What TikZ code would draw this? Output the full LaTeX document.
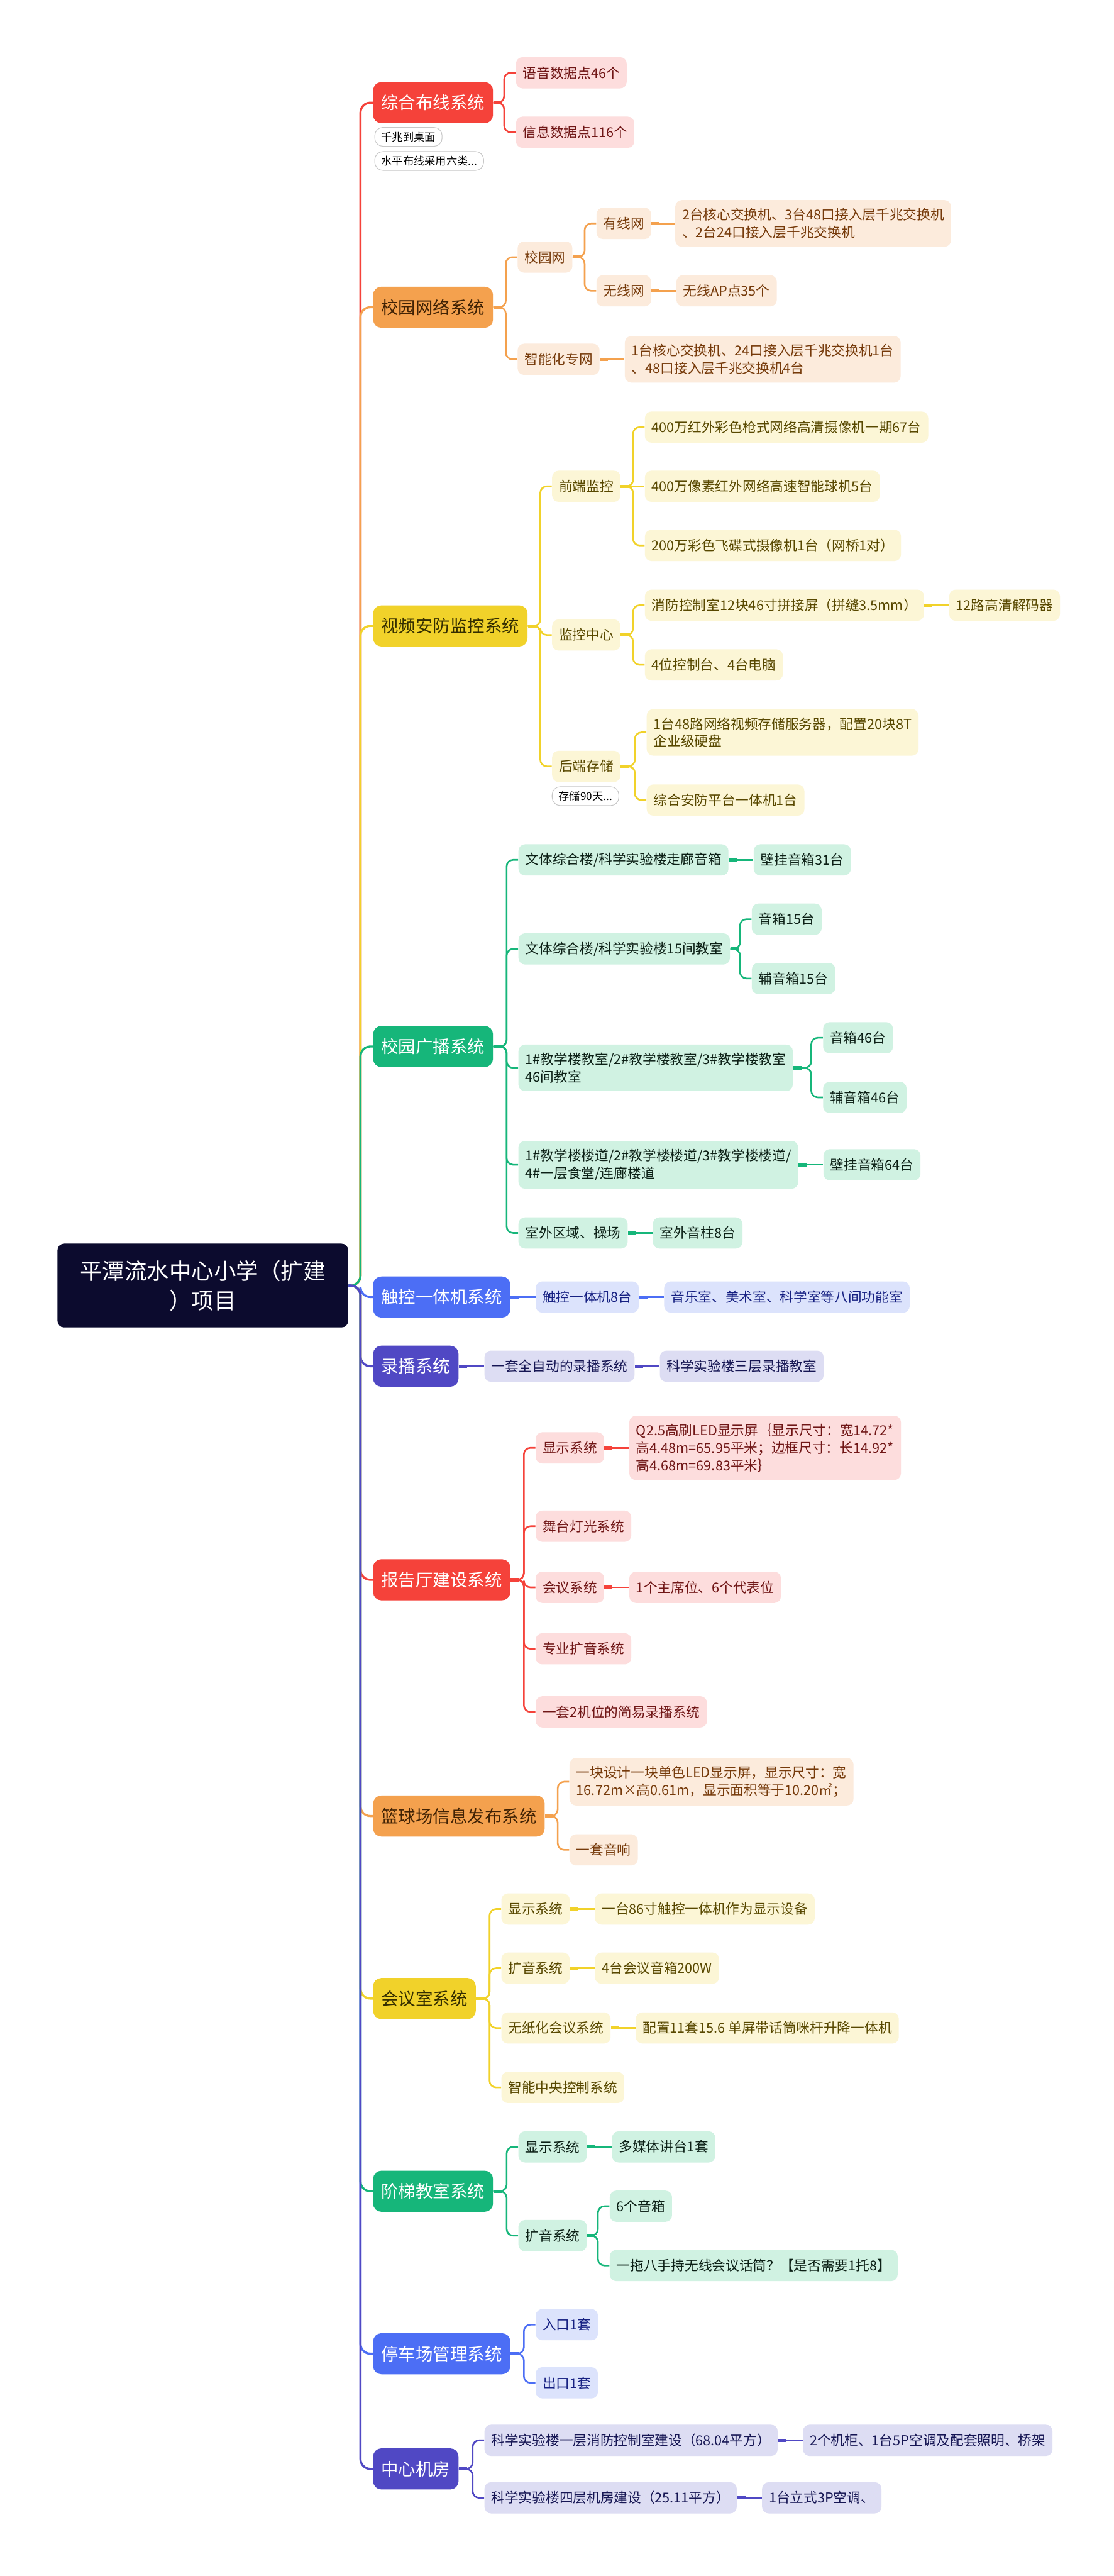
\documentclass[tikz,border=0pt]{standalone}
\usepackage{fontspec}
\setmainfont{Noto Sans CJK SC}
\usetikzlibrary{positioning,backgrounds}
\definecolor{rootInk}{RGB}{12,11,46}
\definecolor{brRed}{RGB}{245,66,58}
\definecolor{brRedLt}{RGB}{253,221,221}
\definecolor{brRedTx}{RGB}{112,22,22}
\definecolor{brOrange}{RGB}{244,161,78}
\definecolor{brOrangeLt}{RGB}{252,235,220}
\definecolor{brOrangeTx}{RGB}{118,58,10}
\definecolor{brOrangeHd}{RGB}{64,34,4}
\definecolor{brYellow}{RGB}{241,210,42}
\definecolor{brYellowLt}{RGB}{252,246,214}
\definecolor{brYellowTx}{RGB}{88,72,0}
\definecolor{brYellowHd}{RGB}{52,46,0}
\definecolor{brGreen}{RGB}{22,182,122}
\definecolor{brGreenLt}{RGB}{208,242,226}
\definecolor{brGreenTx}{RGB}{12,32,22}
\definecolor{brBlue}{RGB}{76,110,245}
\definecolor{brBlueLt}{RGB}{220,227,252}
\definecolor{brBlueTx}{RGB}{22,32,130}
\definecolor{brIndigo}{RGB}{80,72,196}
\definecolor{brIndigoLt}{RGB}{221,221,243}
\definecolor{brIndigoTx}{RGB}{22,22,84}
% parent -> child elbow, with the thick stub at the parent
\newcommand{\twig}[3]{%
  \draw[#1,line width=1pt,rounded corners=4pt] (#2.east) -| ([xshift=-7pt]#3.west) -- (#3.west);
  \draw[#1,line width=2pt] (#2.east) -- ++(5pt,0);}
% parent -> child on the same row
\newcommand{\stem}[3]{%
  \draw[#1,line width=1pt] (#2.east) -- (#3.west);
  \draw[#1,line width=2pt] (#2.east) -- ++(5pt,0);}
% root -> first level
\newcommand{\limb}[2]{%
  \draw[#1,line width=1.3pt,rounded corners=6pt] (root.east) -| ([xshift=-7.5pt]#2.west) -- (#2.west);}

\begin{document}
\begin{tikzpicture}[x=1pt,y=-1pt,
  root/.style={fill=rootInk,text=white,rounded corners=4pt,minimum width=177pt,
               minimum height=51pt,align=center,font=\fontsize{13.6}{18}\selectfont},
  L1/.style 2 args={fill=#1,text=#2,rounded corners=5pt,minimum height=25pt,
               inner xsep=5pt,anchor=west,font=\fontsize{10.5}{12}\selectfont},
  L2/.style={rounded corners=4pt,minimum height=19pt,inner xsep=4.2pt,inner ysep=5pt,
               anchor=west,align=left,font=\fontsize{8.3}{10.6}\selectfont},
  redLeaf/.style={L2,fill=brRedLt,text=brRedTx},
  orangeLeaf/.style={L2,fill=brOrangeLt,text=brOrangeTx},
  yellowLeaf/.style={L2,fill=brYellowLt,text=brYellowTx},
  greenLeaf/.style={L2,fill=brGreenLt,text=brGreenTx},
  blueLeaf/.style={L2,fill=brBlueLt,text=brBlueTx},
  indigoLeaf/.style={L2,fill=brIndigoLt,text=brIndigoTx},
  note/.style={draw=black!22,fill=white,rounded corners=5pt,minimum height=11.5pt,
               inner xsep=4pt,inner ysep=1pt,anchor=west,font=\fontsize{6.6}{8}\selectfont}]

\node[root] (root) at (123.5,782.5) {平潭流水中心小学（扩建\\）项目};

% 综合布线
\node[L1={brRed}{white}] (wiring) at (227,62.5) {综合布线系统};
\node[note] (wiringA) at (228,83.3) {千兆到桌面};
\node[note] (wiringB) at (228,98) {水平布线采用六类...};
\node[redLeaf] (voice) at (314,44.3) {语音数据点46个};
\node[redLeaf] (data) at (314,80.5) {信息数据点116个};

% 校园网络
\node[L1={brOrange}{brOrangeHd}] (net) at (227,187) {校园网络系统};
\node[orangeLeaf] (campus) at (315,156.5) {校园网};
\node[orangeLeaf] (wired) at (363,136) {有线网};
\node[orangeLeaf] (wiredX) at (411,136) {2台核心交换机、3台48口接入层千兆交换机\\、2台24口接入层千兆交换机};
\node[orangeLeaf] (wless) at (363,177) {无线网};
\node[orangeLeaf,right=15pt of wless] (wlessX) {无线AP点35个};
\node[orangeLeaf] (smart) at (315,218.7) {智能化专网};
\node[orangeLeaf,right=15pt of smart] (smartX) {1台核心交换机、24口接入层千兆交换机1台\\、48口接入层千兆交换机4台};

% 视频安防
\node[L1={brYellow}{brYellowHd}] (cctv) at (227,381) {视频安防监控系统};
\node[yellowLeaf] (front) at (336,296) {前端监控};
\node[yellowLeaf] (frontA) at (392.5,260) {400万红外彩色枪式网络高清摄像机一期67台};
\node[yellowLeaf] (frontB) at (392.5,296) {400万像素红外网络高速智能球机5台};
\node[yellowLeaf] (frontC) at (392.5,332) {200万彩色飞碟式摄像机1台（网桥1对）};
\node[yellowLeaf] (ctrl) at (336,386.5) {监控中心};
\node[yellowLeaf] (ctrlA) at (392.5,368.4) {消防控制室12块46寸拼接屏（拼缝3.5mm）};
\node[yellowLeaf,right=15pt of ctrlA] (ctrlAx) {12路高清解码器};
\node[yellowLeaf] (ctrlB) at (392.5,404.7) {4位控制台、4台电脑};
\node[yellowLeaf] (store) at (336,466.5) {后端存储};
\node[note] (storeN) at (336,484.6) {存储90天...};
\node[yellowLeaf] (storeA) at (393.6,445.8) {1台48路网络视频存储服务器，配置20块8T\\企业级硬盘};
\node[yellowLeaf] (storeB) at (393.6,487) {综合安防平台一体机1台};

% 校园广播
\node[L1={brGreen}{white}] (bcast) at (227,637) {校园广播系统};
\node[greenLeaf] (hall1) at (315.5,523.4) {文体综合楼/科学实验楼走廊音箱};
\node[greenLeaf,right=15pt of hall1] (hall1x) {壁挂音箱31台};
\node[greenLeaf] (room1) at (315.5,577.6) {文体综合楼/科学实验楼15间教室};
\node[greenLeaf] (room1a) at (457.6,559.5) {音箱15台};
\node[greenLeaf] (room1b) at (457.6,595.6) {辅音箱15台};
\node[greenLeaf] (room2) at (315.5,650) {1\#教学楼教室/2\#教学楼教室/3\#教学楼教室\\46间教室};
\node[greenLeaf] (room2a) at (501,631.7) {音箱46台};
\node[greenLeaf] (room2b) at (501,668) {辅音箱46台};
\node[greenLeaf] (stair) at (315.5,709) {1\#教学楼楼道/2\#教学楼楼道/3\#教学楼楼道/\\4\#一层食堂/连廊楼道};
\node[greenLeaf,right=15pt of stair] (stairx) {壁挂音箱64台};
\node[greenLeaf] (yard) at (315.5,750.5) {室外区域、操场};
\node[greenLeaf,right=15pt of yard] (yardx) {室外音柱8台};

% 触控一体机
\node[L1={brBlue}{white}] (touch) at (227,789.5) {触控一体机系统};
\node[blueLeaf] (touchA) at (326,789.5) {触控一体机8台};
\node[blueLeaf,right=15pt of touchA] (touchB) {音乐室、美术室、科学室等八间功能室};

% 录播
\node[L1={brIndigo}{white}] (rec) at (227,831.6) {录播系统};
\node[indigoLeaf] (recA) at (294.8,831.6) {一套全自动的录播系统};
\node[indigoLeaf,right=15pt of recA] (recB) {科学实验楼三层录播教室};

% 报告厅
\node[L1={brRed}{white}] (aud) at (227,961.6) {报告厅建设系统};
\node[redLeaf] (audShow) at (326,881.3) {显示系统};
\node[redLeaf,right=15pt of audShow] (audShowX) {Q2.5高刷LED显示屏｛显示尺寸：宽14.72*\\高4.48m=65.95平米；边框尺寸：长14.92*\\高4.68m=69.83平米｝};
\node[redLeaf] (audLight) at (326,929) {舞台灯光系统};
\node[redLeaf] (audConf) at (326,966.2) {会议系统};
\node[redLeaf,right=15pt of audConf] (audConfX) {1个主席位、6个代表位};
\node[redLeaf] (audPA) at (326,1003.6) {专业扩音系统};
\node[redLeaf] (audRec) at (326,1042) {一套2机位的简易录播系统};

% 篮球场
\node[L1={brOrange}{brOrangeHd}] (court) at (227,1105.4) {篮球场信息发布系统};
\node[orangeLeaf] (courtLED) at (346.6,1084.5) {一块设计一块单色LED显示屏，显示尺寸：宽\\16.72m×高0.61m，显示面积等于10.20㎡；};
\node[orangeLeaf] (courtPA) at (346.6,1126) {一套音响};

% 会议室
\node[L1={brYellow}{brYellowHd}] (meet) at (227,1216.5) {会议室系统};
\node[yellowLeaf] (meetShow) at (305.1,1162) {显示系统};
\node[yellowLeaf,right=15pt of meetShow] (meetShowX) {一台86寸触控一体机作为显示设备};
\node[yellowLeaf] (meetPA) at (305.1,1198) {扩音系统};
\node[yellowLeaf,right=15pt of meetPA] (meetPAX) {4台会议音箱200W};
\node[yellowLeaf] (meetPaper) at (305.1,1234.4) {无纸化会议系统};
\node[yellowLeaf,right=15pt of meetPaper] (meetPaperX) {配置11套15.6 单屏带话筒咪杆升降一体机};
\node[yellowLeaf] (meetCtl) at (305.1,1270.6) {智能中央控制系统};

% 阶梯教室
\node[L1={brGreen}{white}] (tier) at (227,1333.8) {阶梯教室系统};
\node[greenLeaf] (tierShow) at (315.5,1306.8) {显示系统};
\node[greenLeaf,right=15pt of tierShow] (tierShowX) {多媒体讲台1套};
\node[greenLeaf] (tierPA) at (315.5,1360.8) {扩音系统};
\node[greenLeaf] (tierPAa) at (371.1,1342.9) {6个音箱};
\node[greenLeaf] (tierPAb) at (371.1,1379) {一拖八手持无线会议话筒？【是否需要1托8】};

% 停车场
\node[L1={brBlue}{white}] (park) at (227,1432.7) {停车场管理系统};
\node[blueLeaf] (parkIn) at (326,1415) {入口1套};
\node[blueLeaf] (parkOut) at (326,1450.4) {出口1套};

% 中心机房
\node[L1={brIndigo}{white}] (core) at (227,1502.8) {中心机房};
\node[indigoLeaf] (coreA) at (294.8,1485.4) {科学实验楼一层消防控制室建设（68.04平方）};
\node[indigoLeaf,right=15pt of coreA] (coreAx) {2个机柜、1台5P空调及配套照明、桥架};
\node[indigoLeaf] (coreB) at (294.8,1520.4) {科学实验楼四层机房建设（25.11平方）};
\node[indigoLeaf,right=15pt of coreB] (coreBx) {1台立式3P空调、};

\begin{scope}[on background layer]
\fill[white] (0,0) rectangle (678,1568);
\limb{brRed}{wiring}
\limb{brOrange}{net}
\limb{brYellow}{cctv}
\limb{brGreen}{bcast}
\limb{brBlue}{touch}
\limb{brIndigo}{rec}
\limb{brRed}{aud}
\limb{brOrange}{court}
\limb{brYellow}{meet}
\limb{brGreen}{tier}
\limb{brBlue}{park}
\limb{brIndigo}{core}

\twig{brRed}{wiring}{voice}
\twig{brRed}{wiring}{data}

\twig{brOrange}{net}{campus}
\twig{brOrange}{net}{smart}
\twig{brOrange}{campus}{wired}
\twig{brOrange}{campus}{wless}
\stem{brOrange}{wired}{wiredX}
\stem{brOrange}{wless}{wlessX}
\stem{brOrange}{smart}{smartX}

\twig{brYellow}{cctv}{front}
\twig{brYellow}{cctv}{ctrl}
\twig{brYellow}{cctv}{store}
\twig{brYellow}{front}{frontA}
\stem{brYellow}{front}{frontB}
\twig{brYellow}{front}{frontC}
\twig{brYellow}{ctrl}{ctrlA}
\twig{brYellow}{ctrl}{ctrlB}
\stem{brYellow}{ctrlA}{ctrlAx}
\twig{brYellow}{store}{storeA}
\twig{brYellow}{store}{storeB}

\twig{brGreen}{bcast}{hall1}
\twig{brGreen}{bcast}{room1}
\twig{brGreen}{bcast}{room2}
\twig{brGreen}{bcast}{stair}
\twig{brGreen}{bcast}{yard}
\stem{brGreen}{hall1}{hall1x}
\twig{brGreen}{room1}{room1a}
\twig{brGreen}{room1}{room1b}
\twig{brGreen}{room2}{room2a}
\twig{brGreen}{room2}{room2b}
\stem{brGreen}{stair}{stairx}
\stem{brGreen}{yard}{yardx}

\stem{brBlue}{touch}{touchA}
\stem{brBlue}{touchA}{touchB}

\stem{brIndigo}{rec}{recA}
\stem{brIndigo}{recA}{recB}

\twig{brRed}{aud}{audShow}
\twig{brRed}{aud}{audLight}
\twig{brRed}{aud}{audConf}
\twig{brRed}{aud}{audPA}
\twig{brRed}{aud}{audRec}
\stem{brRed}{audShow}{audShowX}
\stem{brRed}{audConf}{audConfX}

\twig{brOrange}{court}{courtLED}
\twig{brOrange}{court}{courtPA}

\twig{brYellow}{meet}{meetShow}
\twig{brYellow}{meet}{meetPA}
\twig{brYellow}{meet}{meetPaper}
\twig{brYellow}{meet}{meetCtl}
\stem{brYellow}{meetShow}{meetShowX}
\stem{brYellow}{meetPA}{meetPAX}
\stem{brYellow}{meetPaper}{meetPaperX}

\twig{brGreen}{tier}{tierShow}
\twig{brGreen}{tier}{tierPA}
\stem{brGreen}{tierShow}{tierShowX}
\twig{brGreen}{tierPA}{tierPAa}
\twig{brGreen}{tierPA}{tierPAb}

\twig{brBlue}{park}{parkIn}
\twig{brBlue}{park}{parkOut}

\twig{brIndigo}{core}{coreA}
\twig{brIndigo}{core}{coreB}
\stem{brIndigo}{coreA}{coreAx}
\stem{brIndigo}{coreB}{coreBx}
\end{scope}
\end{tikzpicture}
\end{document}
